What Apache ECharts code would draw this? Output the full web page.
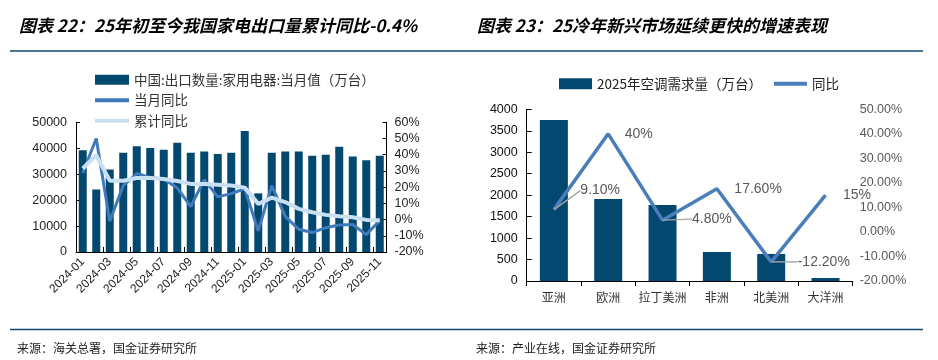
<!DOCTYPE html>
<html>
<head>
<meta charset="utf-8">
<script src="https://cdn.jsdelivr.net/npm/echarts@6/dist/echarts.min.js"></script>
<style>
html,body{margin:0;padding:0;background:#fff;}
#c{width:938px;height:360px;}
</style>
</head>
<body>
<div id="c"></div>
<script>
// ---- Chart 22 data ----
var months = ['2024-01','2024-02','2024-03','2024-04','2024-05','2024-06','2024-07','2024-08','2024-09','2024-10','2024-11','2024-12',
              '2025-01','2025-02','2025-03','2025-04','2025-05','2025-06','2025-07','2025-08','2025-09','2025-10','2025-11'];
var exportQty = [39200,24100,31800,38300,40800,40100,39400,42100,38300,38700,37800,38300,
                 46600,22600,38300,38700,38700,37100,37500,40600,36800,35400,37100];
var monthYoY = [28.7,50,-1,21,28.4,26,25,19.5,8,24.6,14,16,
                19,-7,21,2,-6,-8,-5,-3.3,-3,-9.3,-0.6];
var cumYoY = [31.5,39.7,24,24,25.6,25.6,25,23.8,22,22,21.5,21,
              19.7,9.7,13.5,10.8,6.6,4.5,2.9,2,1.4,-0.2,-0.4];

// ---- Chart 23 data ----
var regions = ['亚洲','欧洲','拉丁美洲','非洲','北美洲','大洋洲'];
var acDemand = [3750,1910,1770,675,630,70];
var acYoY = [9.1,40,4.8,17.6,-12.2,15];
var acYoYLabels = ['9.10%','40%','4.80%','17.60%','-12.20%','15%'];

var CJK = '"Noto Sans CJK SC", "Liberation Sans", sans-serif';
var NUM = '"Liberation Sans", Arial, sans-serif';
var barColor = '#03486f';
var ruleColor = '#0d4a6e';
var lineIcon = 'path://M0,0H34V4H0Z';

// label styling for chart 23 line (styles only)
var labelDist = [26, 16, 29, 17, 26, 17];
var labelDy = [-19, 0, -1, 0, 0, 0];
var labelGuide = [true, false, true, false, true, false];

var chart = echarts.init(document.getElementById('c'), null, {renderer: 'canvas'});

var lineData23 = acYoY.map(function (v, i) {
  return {
    value: v,
    label: {
      show: true,
      position: 'right',
      distance: labelDist[i],
      offset: [0, labelDy[i]],
      padding: 0,
      lineHeight: 14,
      verticalAlign: 'middle',
      formatter: acYoYLabels[i]
    },
    labelLine: { show: labelGuide[i], lineStyle: { color: '#a6a6a6', width: 1.4 } }
  };
});

var plain = function (v) { return String(v); };

var option = {
  animation: false,
  backgroundColor: '#fff',
  textStyle: { fontFamily: NUM },
  title: [
    { text: '图表 22：25年初至今我国家电出口量累计同比-0.4%', left: 14, top: 12,
      textStyle: { fontFamily: CJK, fontSize: 17, fontWeight: 'bold', fontStyle: 'italic', color: '#000' } },
    { text: '图表 23：25冷年新兴市场延续更快的增速表现', left: 472, top: 12,
      textStyle: { fontFamily: CJK, fontSize: 17, fontWeight: 'bold', fontStyle: 'italic', color: '#000' } },
    { text: '来源：海关总署，国金证券研究所', left: 12, top: 337,
      textStyle: { fontFamily: CJK, fontSize: 12, fontWeight: 'normal', color: '#222' } },
    { text: '来源：产业在线，国金证券研究所', left: 471, top: 337,
      textStyle: { fontFamily: CJK, fontSize: 12, fontWeight: 'normal', color: '#222' } }
  ],
  graphic: [
    { type: 'line', shape: { x1: 10, y1: 51, x2: 923, y2: 51 }, style: { stroke: ruleColor, lineWidth: 1.3 } },
    { type: 'line', shape: { x1: 10, y1: 329.5, x2: 923, y2: 329.5 }, style: { stroke: ruleColor, lineWidth: 1.3 } }
  ],
  legend: [
    { orient: 'vertical', left: 90, top: 68, itemWidth: 34, itemHeight: 10, itemGap: 7,
      textStyle: { fontFamily: CJK, fontSize: 13.5, color: '#333' },
      data: [
        { name: '中国:出口数量:家用电器:当月值（万台）', icon: 'rect' },
        { name: '当月同比', icon: lineIcon },
        { name: '累计同比', icon: lineIcon }
      ] },
    { orient: 'horizontal', left: 554, top: 72, itemWidth: 33, itemHeight: 11, itemGap: 12,
      textStyle: { fontFamily: CJK, fontSize: 13.5, color: '#222' },
      data: [
        { name: '2025年空调需求量（万台）', icon: 'rect' },
        { name: '同比', icon: lineIcon, itemStyle: { color: '#4a7ebb', opacity: 1 } }
      ] }
  ],
  grid: [
    { left: 76, right: 551.5, top: 122.3, bottom: 108 },
    { left: 526.7, right: 85.3, top: 109.3, bottom: 79 }
  ],
  xAxis: [
    { type: 'category', gridIndex: 0, data: months, boundaryGap: true,
      axisLine: { lineStyle: { color: '#000', width: 1 } },
      axisTick: { show: true, inside: true, interval: 1, length: 5, lineStyle: { color: '#000' } },
      axisLabel: { interval: 1, rotate: 45, margin: 8, fontSize: 12, color: '#222', fontFamily: NUM } },
    { type: 'category', gridIndex: 1, data: regions, boundaryGap: true,
      axisLine: { lineStyle: { color: '#000', width: 1 } },
      axisTick: { show: true, inside: false, length: 5, lineStyle: { color: '#000' } },
      axisLabel: { interval: 0, margin: 10, fontSize: 12, color: '#333', fontFamily: CJK } }
  ],
  yAxis: [
    { type: 'value', gridIndex: 0, min: 0, max: 50000, interval: 10000,
      axisLine: { show: true, lineStyle: { color: '#000' } },
      axisTick: { show: true, inside: true, length: 4, lineStyle: { color: '#000' } },
      splitLine: { show: false },
      axisLabel: { fontSize: 12.5, color: '#222', margin: 9, fontFamily: NUM, formatter: plain } },
    { type: 'value', gridIndex: 0, position: 'right', min: -20, max: 60, interval: 10,
      axisLine: { show: true, lineStyle: { color: '#000' } },
      axisTick: { show: true, inside: true, length: 4, lineStyle: { color: '#000' } },
      splitLine: { show: false },
      axisLabel: { fontSize: 12.5, color: '#222', margin: 8, fontFamily: NUM,
        formatter: function (v) { return v + '%'; } } },
    { type: 'value', gridIndex: 1, min: 0, max: 4000, interval: 500,
      axisLine: { show: true, lineStyle: { color: '#000' } },
      axisTick: { show: true, inside: true, length: 5, lineStyle: { color: '#000' } },
      splitLine: { show: false },
      axisLabel: { fontSize: 12.5, color: '#111', margin: 9, fontFamily: NUM, formatter: plain } },
    { type: 'value', gridIndex: 1, position: 'right', min: -20, max: 50, interval: 10,
      axisLine: { show: false },
      axisTick: { show: false },
      splitLine: { show: false },
      axisLabel: { fontSize: 12.5, color: '#595959', margin: 7, fontFamily: NUM,
        formatter: function (v) { return v.toFixed(2) + '%'; } } }
  ],
  series: [
    { name: '中国:出口数量:家用电器:当月值（万台）', type: 'bar', xAxisIndex: 0, yAxisIndex: 0,
      data: exportQty, barWidth: 8, itemStyle: { color: barColor } },
    { name: '当月同比', type: 'line', xAxisIndex: 0, yAxisIndex: 1, data: monthYoY,
      symbol: 'none', lineStyle: { color: '#3f7abb', width: 3 }, itemStyle: { color: '#3f7abb' } },
    { name: '累计同比', type: 'line', xAxisIndex: 0, yAxisIndex: 1, data: cumYoY,
      symbol: 'none', lineStyle: { color: '#c9dff2', width: 4 }, itemStyle: { color: '#c9dff2' } },
    { name: '2025年空调需求量（万台）', type: 'bar', xAxisIndex: 1, yAxisIndex: 2,
      data: acDemand, barWidth: 28, itemStyle: { color: barColor } },
    { name: '同比', type: 'line', xAxisIndex: 1, yAxisIndex: 3, data: lineData23,
      symbol: 'circle', symbolSize: 1, showSymbol: true,
      lineStyle: { color: '#4a7ebb', width: 3.5 }, itemStyle: { color: 'rgba(74,126,187,0)', borderWidth: 0 },
      label: { show: true, fontSize: 14, color: '#595959', fontFamily: NUM } }
  ]
};
chart.setOption(option);
</script>
</body>
</html>
